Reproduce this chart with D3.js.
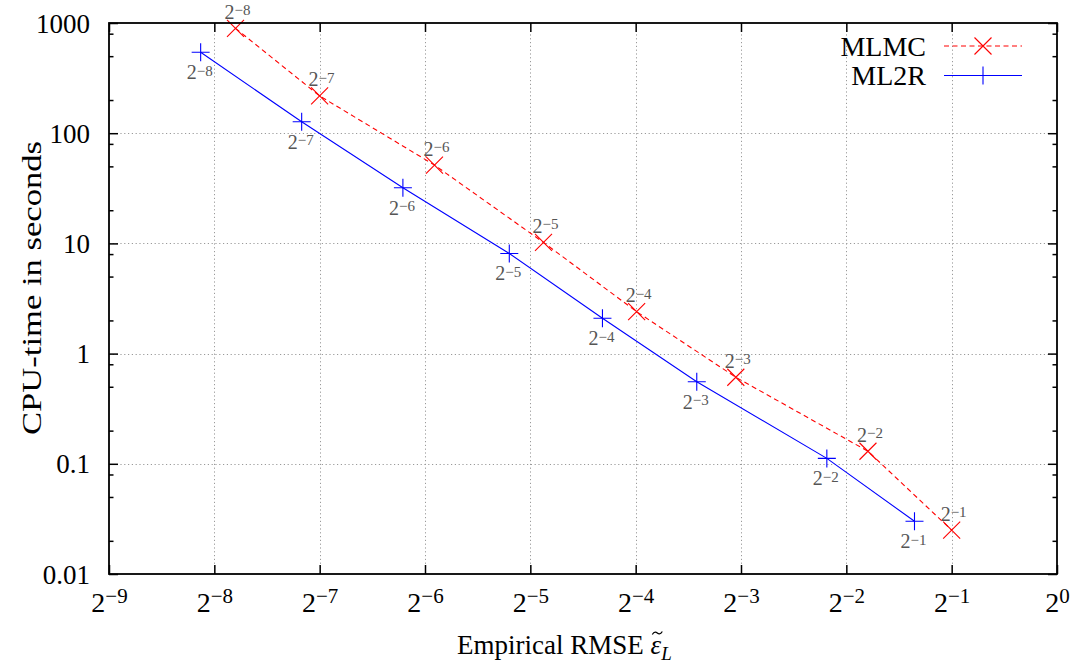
<!DOCTYPE html>
<html><head><meta charset="utf-8">
<script src="https://cdn.jsdelivr.net/npm/d3@7"></script>
<style>
body{margin:0;background:#fff}
svg{display:block}
</style>
</head><body>
<svg id="c" width="1078" height="668"></svg>
<script>
// ---- data ----
const epsExp = [-8, -7, -6, -5, -4, -3, -2, -1];          // target epsilon = 2^e (point labels)
const mlmcRmse = [0.00449, 0.00781, 0.01663, 0.03408, 0.0629, 0.1208, 0.2882, 0.500];
const mlmcTime = [895, 218, 51.4, 10.2, 2.4, 0.61, 0.13, 0.025];
const ml2rRmse = [0.00357, 0.00694, 0.01351, 0.02721, 0.05023, 0.09343, 0.2199, 0.3915];
const ml2rTime = [542, 127, 32, 8.1, 2.09, 0.556, 0.112, 0.0301];
const xTickExps = [-9, -8, -7, -6, -5, -4, -3, -2, -1, 0];
const yTickVals = [0.01, 0.1, 1, 10, 100, 1000];
const yTickLabels = ["0.01", "0.1", "1", "10", "100", "1000"];
const yMinorMult = [2, 5, 8];
const seriesNames = ["MLMC", "ML2R"];

const FONT = '"Liberation Serif", "DejaVu Serif", "Noto Serif", serif';

// ---- layout ----
const L = 109, R = 1057, T = 23, B = 574;
const svg = d3.select("#c").attr("font-family", FONT);
const x = d3.scaleLog().base(2).domain([Math.pow(2, -9), 1]).range([L, R]);
const y = d3.scaleLog().base(10).domain([0.01, 1000]).range([B, T]);
const xTickVals = xTickExps.map(e => Math.pow(2, e));
const yMinorVals = [];
yTickVals.slice(0, -1).forEach(v => yMinorMult.forEach(m => yMinorVals.push(v * m)));

// ---- grid ----
const grid = svg.append("g").attr("stroke", "#9a9a9a").attr("stroke-width", 1).attr("stroke-dasharray", "1.2,2.6");
grid.selectAll("line.gx").data(xTickVals.slice(1, -1)).join("line")
  .attr("x1", d => Math.round(x(d)) + 0.5).attr("x2", d => Math.round(x(d)) + 0.5)
  .attr("y1", T).attr("y2", B);
grid.selectAll("line.gy").data(yTickVals.slice(1, -1)).join("line")
  .attr("y1", d => Math.round(y(d)) + 0.5).attr("y2", d => Math.round(y(d)) + 0.5)
  .attr("x1", L).attr("x2", R);

// ---- series ----
const mlmc = mlmcRmse.map((r, i) => ({r, t: mlmcTime[i], e: epsExp[i]}));
const ml2r = ml2rRmse.map((r, i) => ({r, t: ml2rTime[i], e: epsExp[i]}));
const line = d3.line().x(d => x(d.r)).y(d => y(d.t));

svg.append("path").datum(ml2r).attr("d", line).attr("fill", "none")
  .attr("stroke", "#0000ff").attr("stroke-width", 1.1);
svg.append("path").datum(mlmc).attr("d", line).attr("fill", "none")
  .attr("stroke", "#ff0000").attr("stroke-width", 1.1).attr("stroke-dasharray", "5,3.5");

function crossX(g, cx, cy, s) {
  g.append("path").attr("d", `M${cx - s},${cy - s}L${cx + s},${cy + s}M${cx - s},${cy + s}L${cx + s},${cy - s}`)
    .attr("stroke", "#ff0000").attr("stroke-width", 1.1).attr("fill", "none");
}
function plus(g, cx, cy, s) {
  g.append("path").attr("d", `M${cx - s},${cy}L${cx + s},${cy}M${cx},${cy - s}L${cx},${cy + s}`)
    .attr("stroke", "#0000ff").attr("stroke-width", 1.1).attr("fill", "none");
}
const mk = svg.append("g");
mlmc.forEach(d => crossX(mk, x(d.r), y(d.t), 8.5));
ml2r.forEach(d => plus(mk, x(d.r), y(d.t), 9));

// point labels 2^e
function powLabel(sel, base, exp, bs, es, raise) {
  sel.append("tspan").attr("font-size", bs).text(base);
  sel.append("tspan").attr("font-size", es).attr("dy", -raise).text("\u2212" + Math.abs(exp));
}
const lab = svg.append("g").attr("fill", "#555");
mlmc.forEach(d => {
  const t = lab.append("text").attr("x", x(d.r) - 11).attr("y", y(d.t) - 9.5).attr("text-anchor", "start");
  powLabel(t, "2", d.e, 20, 15, 3.5);
});
ml2r.forEach(d => {
  const t = lab.append("text").attr("x", x(d.r) + 12).attr("y", y(d.t) + 27).attr("text-anchor", "end");
  powLabel(t, "2", d.e, 20, 15, 3.5);
});

// ---- axes ----
const fmtNone = () => "";
const gB = svg.append("g").attr("transform", `translate(0,${B})`)
  .call(d3.axisBottom(x).tickValues(xTickVals).tickSizeInner(-9).tickSizeOuter(0).tickFormat(fmtNone));
const gT = svg.append("g").attr("transform", `translate(0,${T})`)
  .call(d3.axisTop(x).tickValues(xTickVals).tickSizeInner(-9).tickSizeOuter(0).tickFormat(fmtNone));
const gL = svg.append("g").attr("transform", `translate(${L},0)`)
  .call(d3.axisLeft(y).tickValues(yTickVals).tickSizeInner(-9).tickSizeOuter(0).tickPadding(19)
    .tickFormat((d, i) => yTickLabels[i]));
const gLm = svg.append("g").attr("transform", `translate(${L},0)`)
  .call(d3.axisLeft(y).tickValues(yMinorVals).tickSizeInner(-4.5).tickSizeOuter(0).tickFormat(fmtNone));
const gR = svg.append("g").attr("transform", `translate(${R},0)`)
  .call(d3.axisRight(y).tickValues(yTickVals).tickSizeInner(-9).tickSizeOuter(0).tickFormat(fmtNone));
const gRm = svg.append("g").attr("transform", `translate(${R},0)`)
  .call(d3.axisRight(y).tickValues(yMinorVals).tickSizeInner(-4.5).tickSizeOuter(0).tickFormat(fmtNone));
[gB, gT, gL, gLm, gR, gRm].forEach(g => {
  g.attr("font-family", FONT);
  g.select(".domain").remove();
  g.selectAll(".tick line").attr("stroke", "#000").attr("stroke-width", 1.5);
});
gL.selectAll(".tick text").attr("font-size", 27).attr("fill", "#000").attr("dy", "0.34em");
// x tick labels 2^e
gB.selectAll(".tick").each(function (d, i) {
  const t = d3.select(this).select("text").text(null)
    .attr("y", 38).attr("dy", null).attr("fill", "#000").attr("text-anchor", "middle");
  const e = xTickExps[i];
  t.append("tspan").attr("font-size", 28).text("2");
  t.append("tspan").attr("font-size", 21).attr("dy", -9.5).text(e === 0 ? "0" : "\u2212" + Math.abs(e));
});

// border
svg.append("rect").attr("x", L).attr("y", T).attr("width", R - L).attr("height", B - T)
  .attr("fill", "none").attr("stroke", "#000").attr("stroke-width", 1.8);

// ---- axis titles ----
svg.append("text").attr("transform", `translate(41,288) rotate(-90)`).attr("text-anchor", "middle")
  .attr("font-size", 28).attr("textLength", 294).attr("lengthAdjust", "spacingAndGlyphs")
  .text("CPU-time in seconds");
// x title: "Empirical RMSE ε̃_L" (tilde drawn as a small path)
const xt = svg.append("text").attr("x", 457).attr("y", 654).attr("font-size", 27);
const xt1 = xt.append("tspan").text("Empirical RMSE\u00A0");
const xt2 = xt.append("tspan").attr("font-style", "italic").text("\u03B5");
xt.append("tspan").attr("font-style", "italic").attr("font-size", 19).attr("dy", 6).text("L");
const w1 = xt1.node().getComputedTextLength();
const w2 = xt2.node().getComputedTextLength();
const tx = 457 + w1 + w2 / 2 + 1.5, ty = 633;
svg.append("path")
  .attr("d", `M${tx - 5},${ty + 1.5} C${tx - 3},${ty - 2} ${tx - 1},${ty - 1} ${tx},${ty} S${tx + 3},${ty + 2} ${tx + 5},${ty - 1.5}`)
  .attr("fill", "none").attr("stroke", "#000").attr("stroke-width", 1.2);

// ---- legend ----
const lg = svg.append("g");
const legY = [46, 75.5];
seriesNames.forEach((n, i) => {
  lg.append("text").attr("x", 926).attr("y", legY[i] + 9.5).attr("text-anchor", "end")
    .attr("font-size", 28).text(n);
  const ln = lg.append("line").attr("x1", 944).attr("x2", 1022).attr("y1", legY[i]).attr("y2", legY[i])
    .attr("stroke", i === 0 ? "#ff0000" : "#0000ff").attr("stroke-width", 1.1);
  if (i === 0) { ln.attr("stroke-dasharray", "5,3.5"); crossX(lg, 983, legY[i], 8.5); }
  else plus(lg, 983, legY[i], 9);
});
</script>
</body></html>
